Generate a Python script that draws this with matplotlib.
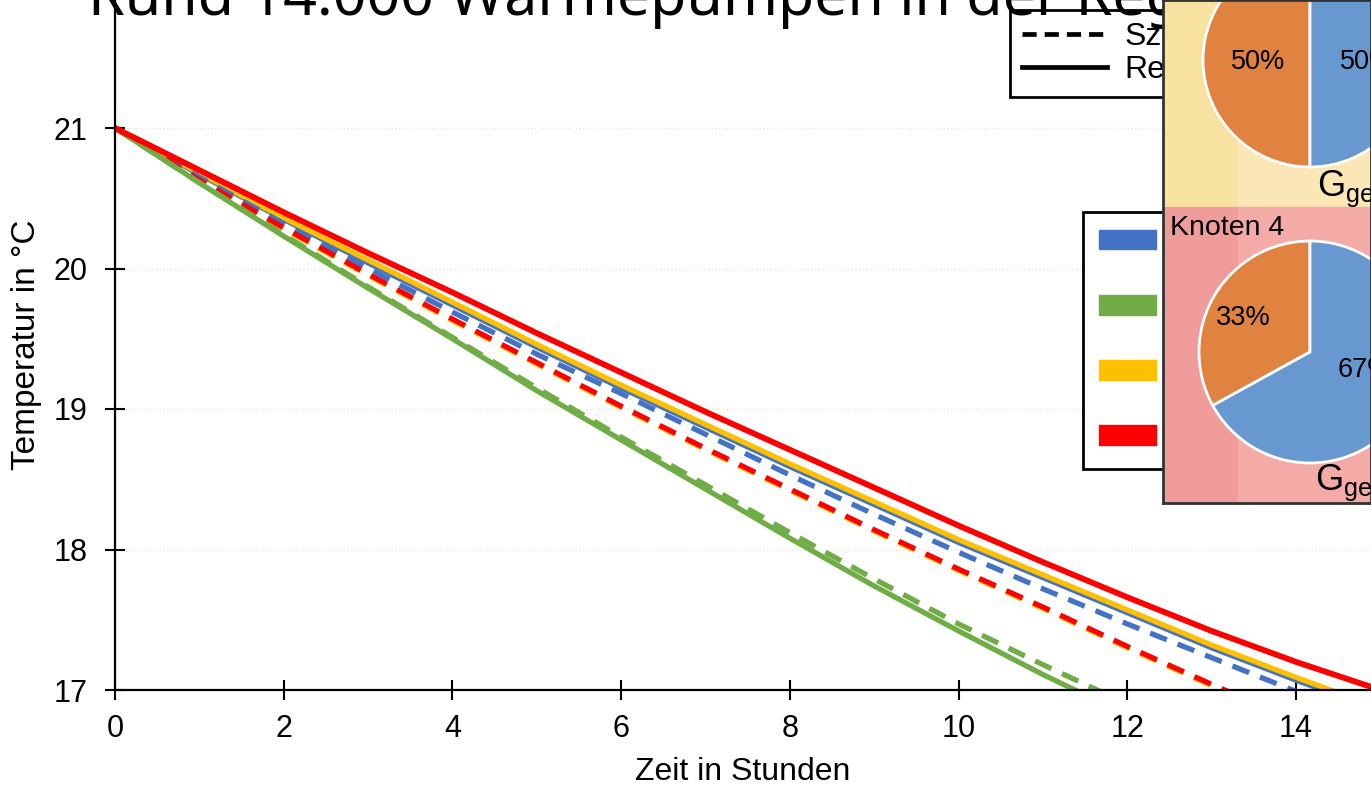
import matplotlib
matplotlib.use("Agg")
import matplotlib.pyplot as plt
from matplotlib.lines import Line2D
from matplotlib.patches import Patch, Rectangle

plt.rcParams['font.family'] = ['Liberation Sans', 'DejaVu Sans']
plt.rcParams['mathtext.fontset'] = 'custom'
plt.rcParams['mathtext.rm'] = 'Liberation Sans'

# Daten
stunden = [0, 1, 2, 3, 4, 5, 6, 7, 8, 9, 10, 11, 12, 13, 14, 15]
ref_rot = [21.0, 20.70, 20.40, 20.11, 19.83, 19.54, 19.26, 18.98, 18.71, 18.44, 18.17, 17.91, 17.66, 17.42, 17.20, 17.00]
ref_gelb = [21.0, 20.68, 20.36, 20.06, 19.76, 19.46, 19.17, 18.89, 18.61, 18.34, 18.07, 17.82, 17.57, 17.32, 17.09, 16.87]
ref_blau = [21.0, 20.67, 20.35, 20.04, 19.74, 19.44, 19.15, 18.87, 18.59, 18.32, 18.05, 17.80, 17.55, 17.30, 17.07, 16.85]
ref_gruen = [21.0, 20.61, 20.23, 19.86, 19.50, 19.13, 18.78, 18.43, 18.08, 17.74, 17.42, 17.11, 16.82, 16.56, 16.30, 16.05]
sz_blau = [21.0, 20.65, 20.32, 20.00, 19.69, 19.39, 19.11, 18.82, 18.53, 18.25, 17.98, 17.72, 17.47, 17.23, 16.99, 16.76]
sz_rot = [21.0, 20.63, 20.29, 19.96, 19.64, 19.33, 19.02, 18.72, 18.43, 18.14, 17.86, 17.59, 17.31, 17.04, 16.78, 16.53]
sz_gelb = [21.0, 20.62, 20.28, 19.95, 19.63, 19.32, 19.01, 18.71, 18.42, 18.13, 17.85, 17.58, 17.30, 17.03, 16.77, 16.52]
sz_gruen = [21.0, 20.61, 20.24, 19.87, 19.51, 19.15, 18.80, 18.46, 18.12, 17.79, 17.47, 17.18, 16.90, 16.63, 16.36, 16.10]

knoten = ['Knoten 1', 'Knoten 2', 'Knoten 3', 'Knoten 4']
farben = ['#4472C4', '#70AD47', '#FFC000', '#FF0000']
anteile_oben = [50, 50]
anteile_unten = [33, 67]
pie_farben = ['#E08240', '#6798CF']

W, H = 1371, 786
fig = plt.figure(figsize=(W / 100, H / 100), dpi=100)
ax = fig.add_axes([115 / W, 96 / H, (W - 115) / W, 690 / H])

lw = 3.8
dash = (3.4, 2.2)
ax.plot(stunden, ref_blau, color=farben[0], lw=lw)
ax.plot(stunden, ref_gelb, color=farben[2], lw=lw)
ax.plot(stunden, sz_blau, color=farben[0], lw=lw, dashes=dash)
ax.plot(stunden, sz_gelb, color=farben[2], lw=lw, dashes=dash)
ax.plot(stunden, sz_rot, color=farben[3], lw=lw, dashes=dash)
ax.plot(stunden, ref_gruen, color=farben[1], lw=lw)
ax.plot(stunden, sz_gruen, color=farben[1], lw=lw, dashes=dash)
ax.plot(stunden, ref_rot, color=farben[3], lw=lw + 0.4)

ax.set_xlim(0, (W - 115) / 84.36)
ax.set_ylim(17, 17 + 690 / 140.5)
ax.set_xticks([0, 2, 4, 6, 8, 10, 12, 14])
ax.set_yticks([17, 18, 19, 20, 21])
ax.grid(axis='y', color='#e6e6e6', ls=':', lw=1)
ax.set_axisbelow(True)
for s in ['top', 'right']:
    ax.spines[s].set_visible(False)
for s in ['left', 'bottom']:
    ax.spines[s].set_linewidth(1.6)
ax.tick_params(direction='inout', length=14, width=1.5, labelsize=22)
ax.tick_params(axis='x', pad=10)
ax.tick_params(axis='y', pad=13)
ax.set_xlabel('Zeit in Stunden', fontsize=23, labelpad=10)
ax.set_ylabel('Temperatur in °C', fontsize=24, labelpad=8)

# Legenden
h1 = [Line2D([], [], color='black', lw=3.4, dashes=(3.0, 1.7)),
      Line2D([], [], color='black', lw=3.4)]
leg1 = ax.legend(h1, ['Szenario', 'Referenz'], loc='upper left',
                 bbox_to_anchor=(1010 / W, 1 - 10 / H), bbox_transform=fig.transFigure,
                 borderaxespad=0, fancybox=False, edgecolor='black', framealpha=1,
                 fontsize=23, handlelength=2.66, labelspacing=0.08, borderpad=0.38,
                 handletextpad=0.53)
leg1.get_frame().set_linewidth(2)
ax.add_artist(leg1)

h2 = [Patch(color=c) for c in farben]
leg2 = ax.legend(h2, knoten, loc='upper left',
                 bbox_to_anchor=(1083 / W, 1 - 212 / H), bbox_transform=fig.transFigure,
                 borderaxespad=0, fancybox=False, edgecolor='black', framealpha=1,
                 fontsize=23, handlelength=1.79, handleheight=0.56, labelspacing=1.1,
                 borderpad=0.5, handletextpad=0.6)
leg2.get_frame().set_linewidth(2)

# Titel
fig.text(88 / W, 1 - 15 / H, 'Rund 14.000 Wärmepumpen in der Region',
         fontsize=42.5, family=['Noto Sans', 'DejaVu Sans'], va='baseline')

# Eingebettetes Bild mit Kreisdiagrammen
ins = fig.add_axes([1163 / W, 1 - 503 / H, (W - 1163) / W, 503 / H])
ins.set_zorder(5)
ins.add_patch(Rectangle((1163, H - 207), 75, 207, color='#F8E2A0', zorder=0))
ins.add_patch(Rectangle((1238, H - 207), W - 1238, 207, color='#FAE7B5', zorder=0))
ins.add_patch(Rectangle((1163, H - 503), 75, 296, color='#F09C9B', zorder=0))
ins.add_patch(Rectangle((1238, H - 503), W - 1238, 296, color='#F4ABA8', zorder=0))

wp = dict(edgecolor='white', linewidth=2)
ins.pie(anteile_oben, colors=pie_farben, startangle=90, center=(1310, H - 60),
        radius=107, frame=True, wedgeprops=wp)
ins.pie(anteile_unten, colors=pie_farben, startangle=90, center=(1310, H - 352),
        radius=111, frame=True, wedgeprops=wp)

ins.text(1258, H - 62, f'{anteile_oben[0]}%', fontsize=19.5, ha='center', va='center')
ins.text(1367, H - 62, f'{anteile_oben[1]}%', fontsize=19.5, ha='center', va='center')
ins.text(1243, H - 318, f'{anteile_unten[0]}%', fontsize=19.5, ha='center', va='center')
ins.text(1365, H - 370, f'{anteile_unten[1]}%', fontsize=19.5, ha='center', va='center')
ins.text(1317, H - 196, r'$\mathrm{G}_{\mathrm{ges}}$', fontsize=26, va='baseline')
ins.text(1315, H - 490, r'$\mathrm{G}_{\mathrm{ges}}$', fontsize=26, va='baseline')
ins.text(1170, H - 228, 'Knoten 4', fontsize=20.5, va='center')

ins.set_xlim(1163, W)
ins.set_ylim(H - 503, H)
ins.set_aspect('auto')
ins.set_xticks([])
ins.set_yticks([])
ins.set_frame_on(True)
for s in ins.spines.values():
    s.set_color('#333333')
    s.set_linewidth(2)

fig.savefig('out.png', dpi=100)
